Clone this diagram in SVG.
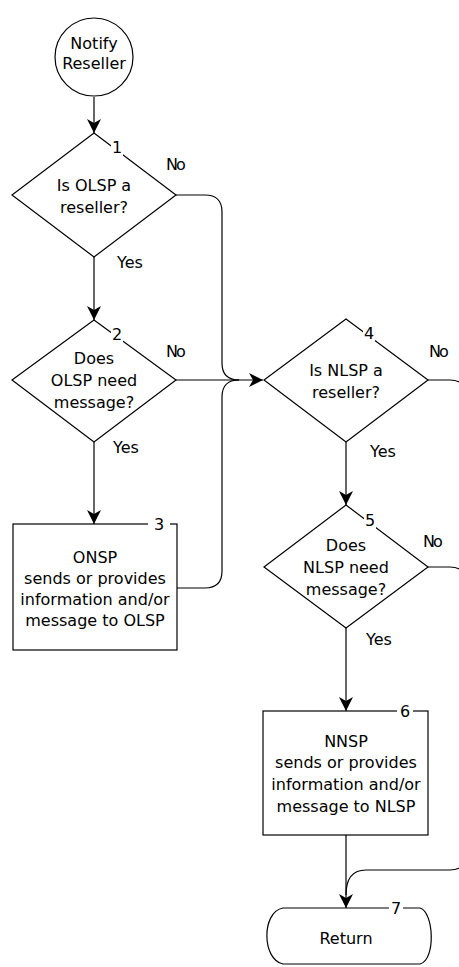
<svg xmlns="http://www.w3.org/2000/svg" width="459" height="967" viewBox="0 0 459 967">
<style>
.s{fill:none;stroke:#000;stroke-width:1.2}
.n{fill:#fff;stroke:#000;stroke-width:1.2}
text{font-family:"DejaVu Sans","Liberation Sans",sans-serif;font-size:16px;fill:#000}
.c{text-anchor:middle}
.no{letter-spacing:-2px}
</style>
<defs>
<marker id="a" markerUnits="userSpaceOnUse" markerWidth="14" markerHeight="14" refX="14" refY="7" orient="auto">
<path d="M0,0 L14,7 L0,14 L4,7 z" fill="#000"/>
</marker>
</defs>
<g id="connectors">
<path class="s" d="M94,97 V133" marker-end="url(#a)"/>
<path class="s" d="M94,257 V320" marker-end="url(#a)"/>
<path class="s" d="M94,442 V524" marker-end="url(#a)"/>
<path class="s" d="M176,195 H205 Q222,195 222,212 V363 Q222,380 239,380"/>
<path class="s" d="M176,380 H263" marker-end="url(#a)"/>
<path class="s" d="M177,588 H205 Q222,588 222,571 V397 Q222,380 239,380"/>
<path class="s" d="M346,442 V505" marker-end="url(#a)"/>
<path class="s" d="M346,628 V711" marker-end="url(#a)"/>
<path class="s" d="M346,835 V908" marker-end="url(#a)"/>
<path class="s" d="M428,380 H450 Q466,380 466,396 V854 Q466,870 450,870 H366 Q346,870 346,895"/>
<path class="s" d="M428,567 H450 Q466,567 466,583"/>
</g>
<g id="start">
<circle class="n" cx="94" cy="57" r="39"/>
<text class="c" x="94" y="49">Notify</text>
<text class="c" x="94" y="69">Reseller</text>
</g>
<g id="d1">
<polygon class="n" points="94,133 176,195 94,257 12,195"/>
<rect x="111" y="139" width="12" height="17" fill="#fff"/>
<text class="c" x="117" y="153">1</text>
<text class="c" x="94" y="191">Is OLSP a</text>
<text class="c" x="94" y="213">reseller?</text>
<text class="no" x="166" y="170">No</text>
<text x="117" y="268">Yes</text>
</g>
<g id="d2">
<polygon class="n" points="94,320 176,380 94,442 12,380"/>
<rect x="111" y="326" width="12" height="17" fill="#fff"/>
<text class="c" x="117" y="340">2</text>
<text class="c" x="94" y="364">Does</text>
<text class="c" x="94" y="386">OLSP need</text>
<text class="c" x="94" y="408">message?</text>
<text class="no" x="166" y="357">No</text>
<text x="113" y="453">Yes</text>
</g>
<g id="b3">
<rect class="n" x="13" y="524" width="164" height="126"/>
<rect x="148" y="518" width="22" height="12" fill="#fff"/>
<text class="c" x="159" y="530">3</text>
<text class="c" x="95" y="563">ONSP</text>
<text class="c" x="95" y="584">sends or provides</text>
<text class="c" x="95" y="605">information and/or</text>
<text class="c" x="95" y="626">message to OLSP</text>
</g>
<g id="d4">
<polygon class="n" points="346,319 428,380 346,442 264,380"/>
<rect x="363" y="325" width="12" height="17" fill="#fff"/>
<text class="c" x="369" y="339">4</text>
<text class="c" x="346" y="376">Is NLSP a</text>
<text class="c" x="346" y="398">reseller?</text>
<text class="no" x="429" y="357">No</text>
<text x="370" y="457">Yes</text>
</g>
<g id="d5">
<polygon class="n" points="346,505 428,567 346,628 264,567"/>
<rect x="364" y="512" width="12" height="17" fill="#fff"/>
<text class="c" x="370" y="526">5</text>
<text class="c" x="346" y="551">Does</text>
<text class="c" x="346" y="573">NLSP need</text>
<text class="c" x="346" y="595">message?</text>
<text class="no" x="423" y="547">No</text>
<text x="366" y="645">Yes</text>
</g>
<g id="b6">
<rect class="n" x="263" y="711" width="165" height="124"/>
<rect x="397" y="705" width="16" height="12" fill="#fff"/>
<text class="c" x="405" y="717">6</text>
<text class="c" x="346" y="747">NNSP</text>
<text class="c" x="346" y="768">sends or provides</text>
<text class="c" x="346" y="790">information and/or</text>
<text class="c" x="346" y="812">message to NLSP</text>
</g>
<g id="ret">
<path class="n" d="M283,908 H420 C434,912 436,960 420,964 H283 C262,960 261,912 283,908 Z"/>
<rect x="389" y="902" width="14" height="12" fill="#fff"/>
<text class="c" x="396" y="914">7</text>
<text class="c" x="346" y="944">Return</text>
</g>
</svg>
